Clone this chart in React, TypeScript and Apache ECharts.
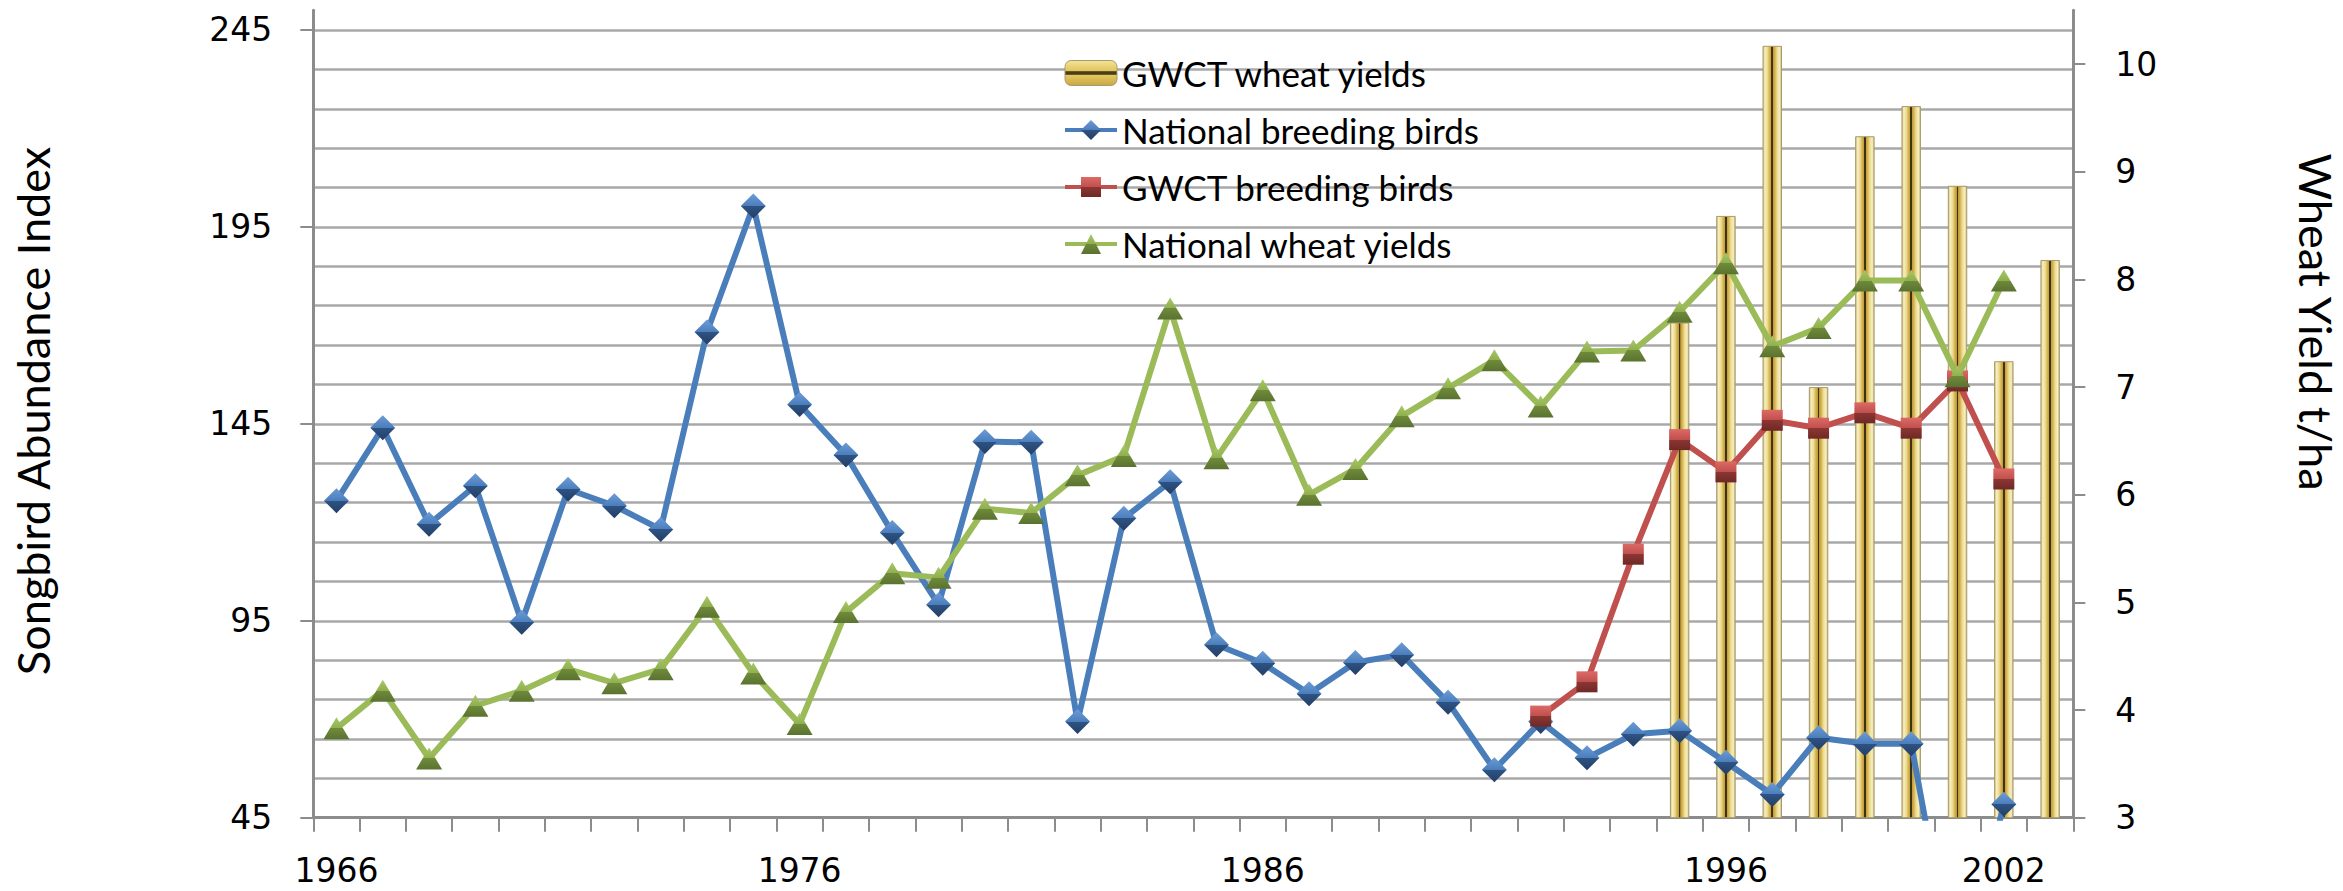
import React, { useEffect, useRef } from 'react';
import * as echarts from 'echarts';

const years = [
  '1966', '1967', '1968', '1969', '1970', '1971', '1972', '1973', '1974', '1975',
  '1976', '1977', '1978', '1979', '1980', '1981', '1982', '1983', '1984', '1985',
  '1986', '1987', '1988', '1989', '1990', '1991', '1992', '1993', '1994', '1995',
  '1996', '1997', '1998', '1999', '2000', '2001', '2002', '2003',
];
const shownYearLabels = ['1966', '1976', '1986', '1996', '2002'];

// GWCT wheat yields (t/ha, right axis)
const gwctWheat = [
  null, null, null, null, null, null, null, null, null, null,
  null, null, null, null, null, null, null, null, null, null,
  null, null, null, null, null, null, null, null, null, 7.6,
  8.59, 10.17, 7.0, 9.33, 9.61, 8.87, 7.24, 8.18,
];

// National breeding birds (index, left axis); 2001 recorded as 0
const nationalBirds = [
  125.5, 144, 119.5, 129.3, 94.6, 128.4, 124.2, 118.2, 168.3, 200.3,
  149.9, 137.1, 117.4, 99.1, 140.5, 140.3, 69.4, 121.0, 130.3, 88.9,
  84.2, 76.5, 84.4, 86.4, 74.3, 57.2, 69.4, 60.2, 66.2, 67.1,
  59.1, 50.9, 65.3, 63.8, 63.8, 0, 48.4, null,
];

// GWCT breeding birds (index, left axis)
const gwctBirds = [
  null, null, null, null, null, null, null, null, null, null,
  null, null, null, null, null, null, null, null, null, null,
  null, null, null, null, null, null, 70.8, 79.5, 111.9, 141.0,
  132.8, 145.9, 143.9, 147.8, 143.9, 155.9, 131.0, null,
];

// National wheat yields (t/ha, right axis)
const nationalWheat = [
  3.83, 4.18, 3.55, 4.04, 4.18, 4.38, 4.25, 4.38, 4.96, 4.34,
  3.87, 4.91, 5.27, 5.23, 5.87, 5.83, 6.18, 6.36, 7.73, 6.34,
  6.97, 6.0, 6.24, 6.73, 6.99, 7.25, 6.82, 7.33, 7.34, 7.7,
  8.15, 7.38, 7.55, 7.99, 7.99, 7.1, 7.99, null,
];

const leftTicks = [45, 95, 145, 195, 245];
const rightTicks = [3, 4, 5, 6, 7, 8, 9, 10];

const AXIS_COLOR = '#8c8c8c';
const GRID_COLOR = '#a8a8a8';
const TICK_FONT = 'DejaVu Sans';
const TEXT_FONT = 'Lato';

function vGrad(c1: string, c2: string, c3: string, c4: string) {
  return new echarts.graphic.LinearGradient(0, 0, 0, 1, [
    { offset: 0, color: c1 },
    { offset: 0.5, color: c2 },
    { offset: 0.5, color: c3 },
    { offset: 1, color: c4 },
  ]);
}

export default function App() {
  const ref = useRef<HTMLDivElement>(null);

  useEffect(() => {
    if (!ref.current) return;
    const chart = echarts.init(ref.current, null, { renderer: 'svg' });

    const barGradient = new echarts.graphic.LinearGradient(0, 0, 1, 0, [
      { offset: 0, color: '#c8bb82' },
      { offset: 0.1, color: '#f6efc2' },
      { offset: 0.24, color: '#eedb8e' },
      { offset: 0.35, color: '#d6b552' },
      { offset: 0.45, color: '#bf9a38' },
      { offset: 0.46, color: '#3d3215' },
      { offset: 0.54, color: '#3d3215' },
      { offset: 0.55, color: '#bf9a38' },
      { offset: 0.65, color: '#d6b552' },
      { offset: 0.76, color: '#eedb8e' },
      { offset: 0.9, color: '#f6efc2' },
      { offset: 1, color: '#c3b57c' },
    ]);

    const legendBarGradient = new echarts.graphic.LinearGradient(0, 0, 0, 1, [
      { offset: 0, color: '#f3e49a' },
      { offset: 0.4, color: '#e2c65e' },
      { offset: 0.45, color: '#4a3d18' },
      { offset: 0.55, color: '#4a3d18' },
      { offset: 0.6, color: '#e2c65e' },
      { offset: 1, color: '#c9a843' },
    ]);

    const option: any = {
      animation: false,
      backgroundColor: '#ffffff',
      grid: { left: 313.3, right: 269.7, top: 10.3, bottom: 73.3, containLabel: false },
      legend: {
        orient: 'vertical',
        left: 1058,
        top: 49,
        itemWidth: 52,
        itemHeight: 25,
        itemGap: 19,
        data: [
          { name: 'GWCT wheat yields', itemStyle: { color: legendBarGradient, borderColor: '#a8996a', borderWidth: 1 } },
          'National breeding birds',
          'GWCT breeding birds',
          'National wheat yields',
        ],
        textStyle: { fontSize: 35, fontFamily: TEXT_FONT, color: '#000', lineHeight: 38 },
        lineStyle: { width: 4 },
      },
      xAxis: {
        type: 'category',
        data: years,
        boundaryGap: true,
        axisLine: { lineStyle: { color: AXIS_COLOR, width: 3 } },
        axisTick: { show: true, interval: 0, length: 14, lineStyle: { color: AXIS_COLOR, width: 2 } },
        axisLabel: {
          interval: (i: number, v: string) => shownYearLabels.includes(v),
          margin: 36,
          fontSize: 33,
          fontFamily: TICK_FONT,
          color: '#000',
        },
        splitLine: { show: false },
      },
      yAxis: [
        {
          type: 'value',
          position: 'left',
          min: 45,
          max: 250,
          interval: 50,
          axisLine: { show: true, lineStyle: { color: AXIS_COLOR, width: 3 } },
          axisTick: { show: true, length: 13, lineStyle: { color: AXIS_COLOR, width: 2 }, customValues: leftTicks },
          axisLabel: {
            margin: 41,
            fontSize: 33,
            fontFamily: TICK_FONT,
            color: '#000',
            customValues: leftTicks,
            formatter: (v: number) => (leftTicks.includes(v) ? String(v) : ''),
          },
          splitLine: { show: false },
        },
        {
          type: 'value',
          position: 'right',
          min: 3,
          max: 10.5,
          interval: 1,
          axisLine: { show: true, lineStyle: { color: AXIS_COLOR, width: 3 } },
          axisTick: { show: true, length: 12, lineStyle: { color: AXIS_COLOR, width: 2 }, customValues: rightTicks },
          axisLabel: {
            margin: 42,
            fontSize: 33,
            fontFamily: TICK_FONT,
            color: '#000',
            customValues: rightTicks,
            formatter: (v: number) => (rightTicks.includes(v) ? String(v) : ''),
          },
          splitLine: { show: false },
        },
        {
          type: 'value',
          position: 'left',
          min: 45,
          max: 250,
          interval: 10,
          axisLine: { show: false },
          axisTick: { show: false },
          axisLabel: { show: false },
          splitLine: { show: true, showMaxLine: false, lineStyle: { color: GRID_COLOR, width: 2.5 } },
        },
      ],
      graphic: [
        {
          type: 'text',
          x: 33,
          y: 411,
          rotation: Math.PI / 2,
          style: {
            text: 'Songbird Abundance Index',
            fontSize: 45,
            fontFamily: TEXT_FONT,
            fill: '#000',
            align: 'center',
            verticalAlign: 'middle',
          },
        },
        {
          type: 'text',
          x: 2316,
          y: 322,
          rotation: -Math.PI / 2,
          style: {
            text: 'Wheat Yield t/ha',
            fontSize: 45,
            fontFamily: TEXT_FONT,
            fill: '#000',
            align: 'center',
            verticalAlign: 'middle',
          },
        },
      ],
      series: [
        {
          name: 'GWCT wheat yields',
          type: 'bar',
          yAxisIndex: 1,
          data: gwctWheat,
          barWidth: '42%',
          clip: true,
          z: 2,
          itemStyle: { color: barGradient, borderColor: '#a8996a', borderWidth: 1 },
        },
        {
          name: 'National breeding birds',
          type: 'line',
          yAxisIndex: 0,
          data: nationalBirds,
          clip: true,
          z: 3,
          showAllSymbol: true,
          symbol: 'diamond',
          symbolSize: [25, 25],
          lineStyle: { color: '#4a7ebb', width: 6 },
          itemStyle: { color: vGrad('#6d9cd8', '#4a7ebb', '#2e5384', '#233f66') },
        },
        {
          name: 'GWCT breeding birds',
          type: 'line',
          yAxisIndex: 0,
          data: gwctBirds,
          clip: true,
          z: 4,
          showAllSymbol: true,
          symbol: 'rect',
          symbolSize: [21, 21],
          lineStyle: { color: '#c0504d', width: 6 },
          itemStyle: { color: vGrad('#dc6a66', '#c0504d', '#8c3633', '#6e2926') },
        },
        {
          name: 'National wheat yields',
          type: 'line',
          yAxisIndex: 1,
          data: nationalWheat,
          clip: true,
          z: 5,
          showAllSymbol: true,
          symbol: 'triangle',
          symbolSize: [26, 22],
          lineStyle: { color: '#9bbb59', width: 6 },
          itemStyle: { color: vGrad('#a9c96a', '#8fae4c', '#6f8b3a', '#5a7230') },
        },
      ],
    };

    chart.setOption(option);
    return () => {
      chart.dispose();
    };
  }, []);

  return (
    <div
      ref={ref}
      style={{ position: 'fixed', left: 0, top: 0, width: 2343, height: 891, background: '#fff' }}
    />
  );
}
